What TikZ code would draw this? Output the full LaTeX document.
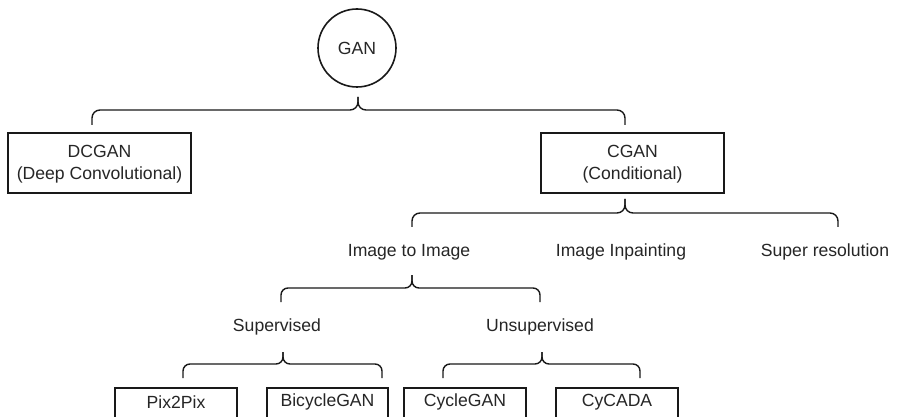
\documentclass[tikz,border=0pt]{standalone}
\usepackage{fontspec}
\setmainfont{Liberation Sans}
\begin{document}
\begin{tikzpicture}[x=1pt,y=-1pt,
  txt/.style={font=\fontsize{17.6}{22}\selectfont, text=black!85, inner sep=0pt, align=center},
  boxn/.style={draw=black!90, line width=1.6pt},
  brc/.style={draw=black!90, line width=1.4pt, rounded corners=8pt},
  brcs/.style={draw=black!90, line width=1.4pt, rounded corners=7pt}]
\useasboundingbox (0,0) rectangle (898,417);
\clip (0,0) rectangle (898,417);
\fill[white] (0,0) rectangle (898,417);
\newcommand{\cbr}[7]{% style x1 xc x2 ytop yh ybot
  \draw[#1] (#2,#7) |- (#3,#6) -- (#3,#5);
  \draw[#1] (#4,#7) |- (#3,#6) -- (#3,#5);}
% GAN
\node[draw=black!90, line width=1.6pt, circle, minimum size=78pt, txt] (gan) at (357,48) {GAN};
% level 1
\draw[boxn] (8,133) rectangle (191,193);
\node[txt] (dcgan) at (99.5,164) {DCGAN\\(Deep Convolutional)};
\draw[boxn] (541,133) rectangle (724,193);
\node[txt] (cgan) at (632.5,164) {CGAN\\(Conditional)};
\cbr{brc}{92}{358}{625}{97}{110}{125}
% level 2
\cbr{brc}{412}{625}{838}{199}{213}{227}
\node[txt] (i2i) at (409,252) {Image to Image};
\node[txt] (inp) at (621,252) {Image Inpainting};
\node[txt] (sr) at (825,252) {Super resolution};
% level 3
\cbr{brcs}{281}{412}{540}{275}{288}{302}
\node[txt] (sup) at (277,327) {Supervised};
\node[txt] (uns) at (540,327) {Unsupervised};
% level 4
\cbr{brcs}{183}{283}{382}{352}{364}{378}
\cbr{brcs}{443}{542}{640}{352}{364}{378}
\draw[boxn] (115,388) rectangle (237,440);
\node[txt] (p2p) at (176,402) {Pix2Pix};
\draw[boxn] (267,388) rectangle (388,440);
\node[txt] (bic) at (327.5,402) {BicycleGAN};
\draw[boxn] (404,388) rectangle (526,440);
\node[txt] (cyc) at (465,402) {CycleGAN};
\draw[boxn] (556,388) rectangle (678,440);
\node[txt] (cyca) at (617,402) {CyCADA};
\end{tikzpicture}
\end{document}
